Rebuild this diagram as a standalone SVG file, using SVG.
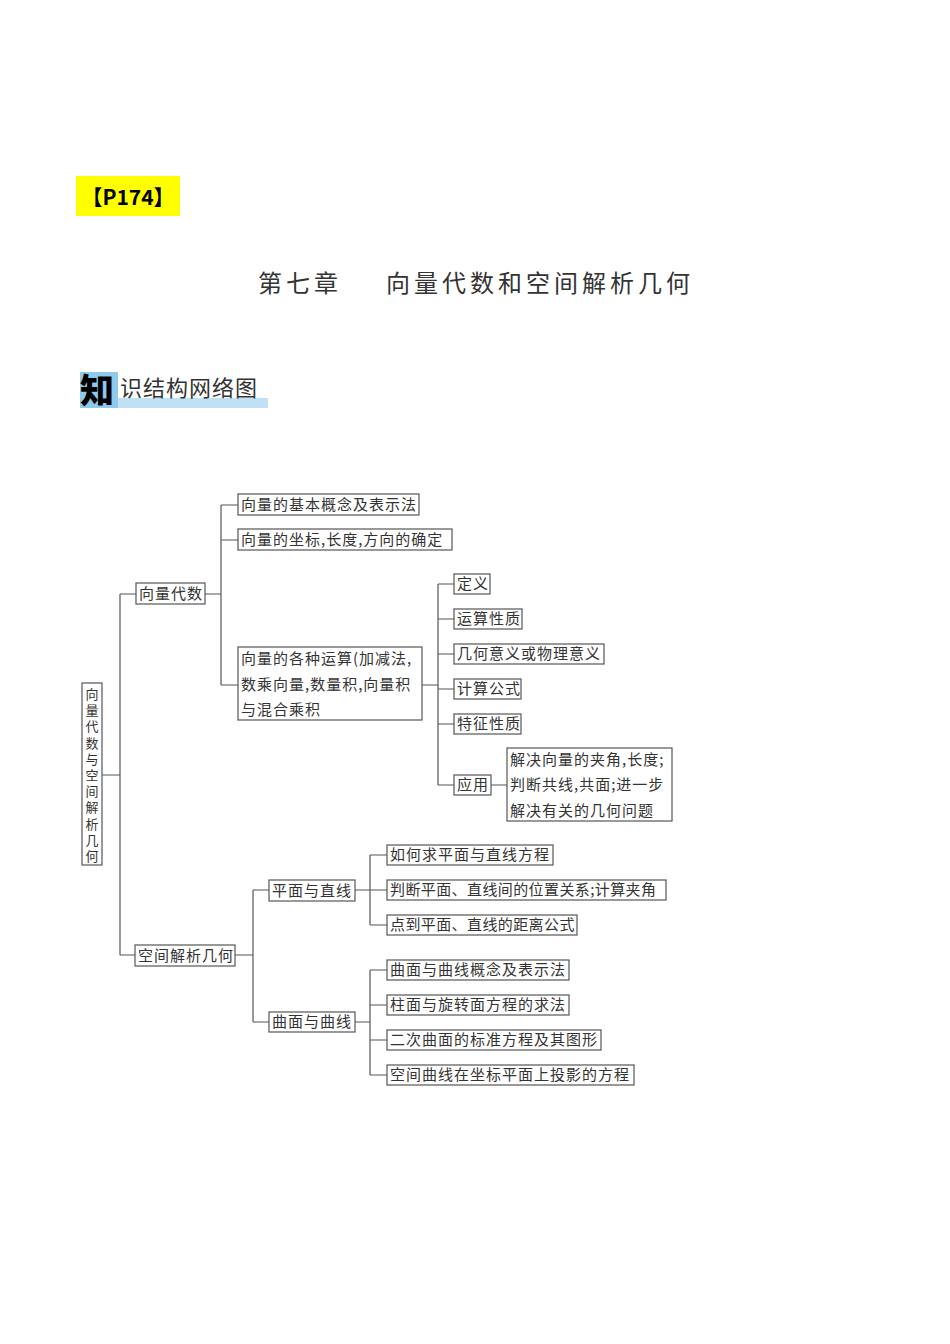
<svg xmlns="http://www.w3.org/2000/svg" width="950" height="1344" viewBox="0 0 950 1344">
<style>
.b{fill:#fff;stroke:#555;stroke-width:1.2}
.t{font-family:"Noto Sans CJK SC",sans-serif;font-size:15px;fill:#333;letter-spacing:1px}
.n{letter-spacing:0.4px}
.v{font-family:"Noto Sans CJK SC",sans-serif;font-size:13px;fill:#333}
.c{fill:none;stroke:#555;stroke-width:1.2}
</style>
<rect width="950" height="1344" fill="#fff"/>
<rect x="76" y="176" width="104" height="40" fill="#ffff00"/>
<text x="128" y="205" text-anchor="middle" font-family="Noto Sans CJK SC,sans-serif" font-weight="bold" font-size="21">【P174】</text>
<text x="258" y="292" font-family="Noto Sans CJK SC,sans-serif" font-size="24" fill="#333" letter-spacing="4">第七章</text>
<text x="386" y="292" font-family="Noto Sans CJK SC,sans-serif" font-size="24" fill="#333" letter-spacing="4">向量代数和空间解析几何</text>
<rect x="80" y="398" width="188" height="10" fill="#bfe0f5"/>
<rect x="80" y="372" width="38" height="36" fill="#8ec9ee"/>
<text x="80" y="403" font-family="Noto Sans CJK SC,sans-serif" font-weight="900" font-size="34" fill="#000">知</text>
<text x="120" y="396" font-family="Noto Sans CJK SC,sans-serif" font-size="22" fill="#333" letter-spacing="1">识结构网络图</text>
<g id="connectors" class="c">
<path d="M102 775H120M120 594V955M120 594H136M120 955H135"/>
<path d="M205 594H221M221 505V685M221 505H238M221 540H238M221 685H238"/>
<path d="M422 685H438M438 584V785M438 584H454M438 619H454M438 654H454M438 689H454M438 724H454M438 785H454M491 785H507"/>
<path d="M235 955H253M253 890V1022M253 890H269M253 1022H269"/>
<path d="M355 890H370M370 855V925M370 855H387M370 890H387M370 925H387"/>
<path d="M355 1022H370M370 970V1075M370 970H387M370 1005H387M370 1040H387M370 1075H387"/>
</g>
<g id="root"><rect class="b" x="82" y="683" width="20" height="182"/>
<text class="v" text-anchor="middle"><tspan x="92" y="699">向</tspan><tspan x="92" dy="16.2">量</tspan><tspan x="92" dy="16.2">代</tspan><tspan x="92" dy="16.2">数</tspan><tspan x="92" dy="16.2">与</tspan><tspan x="92" dy="16.2">空</tspan><tspan x="92" dy="16.2">间</tspan><tspan x="92" dy="16.2">解</tspan><tspan x="92" dy="16.2">析</tspan><tspan x="92" dy="16.2">几</tspan><tspan x="92" dy="16.2">何</tspan></text></g>
<g id="n1"><rect class="b" x="136" y="583" width="69" height="21"/><text class="t" x="139" y="599">向量代数</text></g>
<g id="n11"><rect class="b" x="238" y="494" width="181" height="21"/><text class="t" x="241" y="510">向量的基本概念及表示法</text></g>
<g id="n12"><rect class="b" x="238" y="529" width="214" height="21"/><text class="t" x="241" y="545">向量的坐标,长度,方向的确定</text></g>
<g id="n13"><rect class="b" x="238" y="647" width="184" height="73"/><text class="t"><tspan x="241" y="664">向量的各种运算(加减法,</tspan><tspan x="241" y="690">数乘向量,数量积,向量积</tspan><tspan x="241" y="715">与混合乘积</tspan></text></g>
<g id="a1"><rect class="b" x="454" y="574" width="36" height="20"/><text class="t" x="457" y="589">定义</text></g>
<g id="a2"><rect class="b" x="454" y="609" width="68" height="20"/><text class="t" x="457" y="624">运算性质</text></g>
<g id="a3"><rect class="b" x="454" y="644" width="150" height="20"/><text class="t" x="457" y="659">几何意义或物理意义</text></g>
<g id="a4"><rect class="b" x="454" y="679" width="67" height="20"/><text class="t" x="457" y="694">计算公式</text></g>
<g id="a5"><rect class="b" x="454" y="714" width="67" height="20"/><text class="t" x="457" y="729">特征性质</text></g>
<g id="a6"><rect class="b" x="454" y="775" width="37" height="20"/><text class="t" x="457" y="790">应用</text></g>
<g id="a7"><rect class="b" x="507" y="748" width="165" height="73"/><text class="t"><tspan x="510" y="765">解决向量的夹角,长度;</tspan><tspan x="510" y="790">判断共线,共面;进一步</tspan><tspan x="510" y="816">解决有关的几何问题</tspan></text></g>
<g id="n2"><rect class="b" x="135" y="945" width="100" height="21"/><text class="t" x="138" y="961">空间解析几何</text></g>
<g id="n21"><rect class="b" x="269" y="880" width="86" height="21"/><text class="t" x="272" y="896">平面与直线</text></g>
<g id="n22"><rect class="b" x="269" y="1012" width="86" height="20"/><text class="t" x="272" y="1027">曲面与曲线</text></g>
<g id="p1"><rect class="b" x="387" y="845" width="166" height="20"/><text class="t" x="390" y="860">如何求平面与直线方程</text></g>
<g id="p2"><rect class="b" x="387" y="880" width="279" height="20"/><text class="t n" x="390" y="895">判断平面、直线间的位置关系;计算夹角</text></g>
<g id="p3"><rect class="b" x="387" y="915" width="190" height="20"/><text class="t n" x="390" y="930">点到平面、直线的距离公式</text></g>
<g id="q1"><rect class="b" x="387" y="960" width="182" height="20"/><text class="t" x="390" y="975">曲面与曲线概念及表示法</text></g>
<g id="q2"><rect class="b" x="387" y="995" width="182" height="20"/><text class="t" x="390" y="1010">柱面与旋转面方程的求法</text></g>
<g id="q3"><rect class="b" x="387" y="1030" width="214" height="20"/><text class="t" x="390" y="1045">二次曲面的标准方程及其图形</text></g>
<g id="q4"><rect class="b" x="387" y="1065" width="247" height="20"/><text class="t" x="390" y="1080">空间曲线在坐标平面上投影的方程</text></g>
</svg>
